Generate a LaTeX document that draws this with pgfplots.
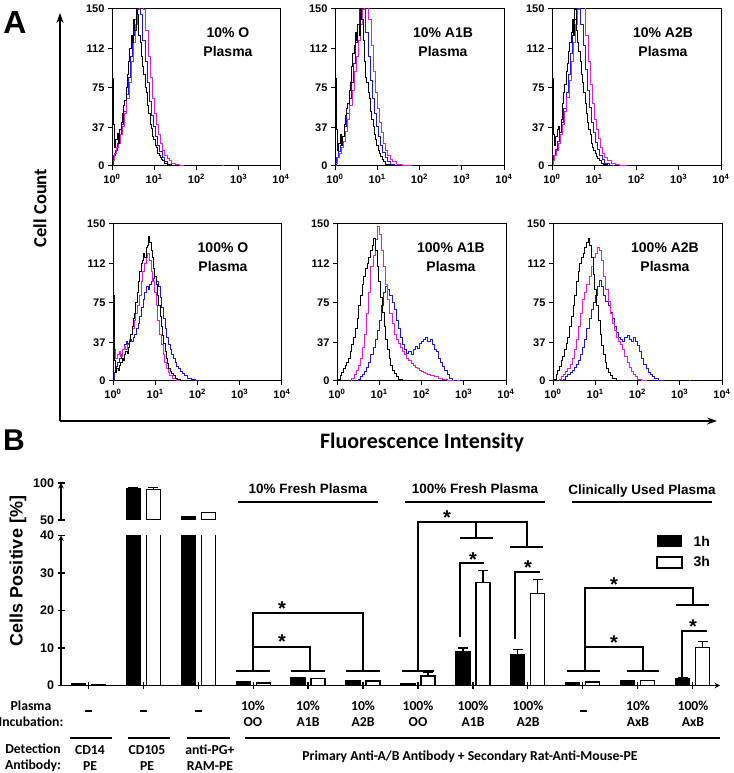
\documentclass[border=0pt]{standalone}
\usepackage{pgfplots}
\pgfplotsset{compat=1.18}
\usepackage{fontspec}
\setmainfont{Liberation Sans}
\newfontfamily\calfont{Carlito}
\usetikzlibrary{arrows.meta}
\definecolor{mag}{RGB}{240,20,225}
\definecolor{blu}{RGB}{20,20,255}
\pgfplotsset{
  hist/.style={scale only axis, width=169pt, height=157pt, anchor=south west,
    xmin=0, xmax=4, ymin=0, ymax=150,
    xtick={0,1,2,3,4},
    xticklabels={10\textsuperscript{0},10\textsuperscript{1},10\textsuperscript{2},10\textsuperscript{3},10\textsuperscript{4}},
    ytick={0,37,75,112,150},
    /pgf/number format/assume math mode=true,
    tick align=outside, tick pos=left, major tick length=4pt,
    axis line style={line width=1pt},
    every tick/.style={line width=1pt, black},
    tick label style={font=\fontsize{11}{11}\selectfont\bfseries},
    xticklabel style={yshift=-1pt},
    const plot, every axis plot/.append style={line width=0.7pt, mark=none}},
  bstyle/.style={scale only axis, width=659pt, anchor=south west,
    xmin=-0.5, xmax=11.5, clip=true,
    /pgf/number format/assume math mode=true,
    tick align=outside, major tick length=7pt,
    every tick/.style={line width=1.4pt, black},
    axis line style={-, line width=1.4pt},
    tick label style={font=\fontsize{12.5}{12.5}\selectfont\bfseries}},
  errs/.style={draw=none, mark=none, forget plot,
    error bars/.cd, y dir=plus, y explicit,
    error bar style={draw=black, line width=1.3pt},
    error mark options={draw=black, rotate=90, mark size=5pt, line width=1.3pt}}
}
\tikzset{ptitle/.style={font=\fontsize{14}{19.5}\selectfont\bfseries, align=center}}
\begin{document}
\begin{tikzpicture}
\path[use as bounding box] (0pt,0pt) rectangle (733pt,773pt);

% ---------------- Panel A ----------------
\begin{axis}[hist, at={(112pt,607pt)}]
\addplot[blu] coordinates {(0,0)(0.03,10)(0.08,15)(0.13,22)(0.18,30)(0.23,40)(0.28,52)(0.33,68)(0.38,85)(0.43,105)(0.48,125)(0.53,140)(0.58,155)(0.63,160)(0.68,145)(0.73,120)(0.78,100)(0.83,80)(0.88,62)(0.93,48)(0.98,38)(1.03,28)(1.08,20)(1.13,14)(1.18,8)(1.23,4)(1.3,2)(1.4,0)(4,0)};
\addplot[mag] coordinates {(0,0)(0.02,5)(0.05,12)(0.1,18)(0.15,22)(0.2,30)(0.25,38)(0.3,50)(0.35,65)(0.4,80)(0.45,100)(0.5,118)(0.55,135)(0.6,150)(0.65,165)(0.7,170)(0.75,150)(0.8,130)(0.85,105)(0.9,85)(0.95,65)(1.0,50)(1.05,40)(1.1,30)(1.15,22)(1.2,15)(1.25,10)(1.3,7)(1.35,5)(1.4,3)(1.5,2)(1.6,1)(1.7,0)(2.6,0)(2.62,1)(2.64,0)(4,0)};
\addplot[black] coordinates {(0,0)(0,84)(0.03,40)(0.06,18)(0.09,25)(0.12,31)(0.15,22)(0.18,35)(0.21,42)(0.24,50)(0.27,58)(0.30,63)(0.33,75)(0.36,88)(0.39,100)(0.42,112)(0.45,125)(0.48,118)(0.51,140)(0.54,130)(0.57,155)(0.60,145)(0.63,125)(0.66,118)(0.69,105)(0.72,95)(0.75,88)(0.78,75)(0.81,70)(0.84,58)(0.87,50)(0.90,40)(0.93,36)(0.96,28)(0.99,25)(1.02,20)(1.05,18)(1.08,12)(1.11,10)(1.14,8)(1.17,6)(1.20,5)(1.23,3)(1.30,2)(1.40,1)(1.50,0)(2.3,0)(2.32,1)(2.34,0)(4,0)};
\end{axis}

\begin{axis}[hist, at={(335pt,607pt)}]
\addplot[blu] coordinates {(0,0)(0.03,8)(0.08,14)(0.13,20)(0.18,28)(0.23,38)(0.28,50)(0.33,65)(0.38,80)(0.43,98)(0.48,118)(0.53,135)(0.58,150)(0.63,158)(0.68,150)(0.73,128)(0.78,105)(0.83,82)(0.88,65)(0.93,50)(0.98,38)(1.03,28)(1.08,20)(1.13,13)(1.18,8)(1.23,4)(1.3,2)(1.4,0)(4,0)};
\addplot[mag] coordinates {(0,0)(0.02,3)(0.06,8)(0.1,12)(0.15,18)(0.2,24)(0.25,33)(0.3,45)(0.35,58)(0.4,72)(0.45,90)(0.5,105)(0.55,120)(0.6,135)(0.65,150)(0.7,165)(0.75,160)(0.8,140)(0.85,115)(0.9,90)(0.95,70)(1.0,55)(1.05,42)(1.1,32)(1.15,22)(1.2,15)(1.25,10)(1.3,6)(1.35,4)(1.45,2)(1.6,1)(1.8,0)(2.9,0)(2.92,1)(2.94,0)(4,0)};
\addplot[black] coordinates {(0,0)(0,84)(0.03,35)(0.06,15)(0.09,22)(0.12,30)(0.15,20)(0.18,28)(0.21,40)(0.24,48)(0.27,55)(0.30,60)(0.33,72)(0.36,80)(0.39,95)(0.42,108)(0.45,115)(0.48,128)(0.51,120)(0.54,135)(0.57,125)(0.60,155)(0.63,140)(0.66,120)(0.69,100)(0.72,85)(0.75,80)(0.78,70)(0.81,65)(0.84,52)(0.87,45)(0.90,38)(0.93,30)(0.96,25)(0.99,20)(1.02,15)(1.05,12)(1.08,9)(1.11,6)(1.15,4)(1.2,2)(1.3,1)(1.4,0)(2.2,0)(2.22,1)(2.24,0)(2.4,0)(2.42,1)(2.44,0)(4,0)};
\end{axis}

\begin{axis}[hist, at={(552pt,607pt)}]
\addplot[blu] coordinates {(0,0)(0.03,10)(0.08,16)(0.13,24)(0.18,32)(0.23,42)(0.28,55)(0.33,70)(0.38,88)(0.43,108)(0.48,125)(0.53,140)(0.58,152)(0.63,150)(0.68,135)(0.73,115)(0.78,92)(0.83,72)(0.88,56)(0.93,42)(0.98,32)(1.03,23)(1.08,16)(1.13,10)(1.18,6)(1.25,3)(1.35,1)(1.45,0)(4,0)};
\addplot[mag] coordinates {(0,0)(0.02,5)(0.06,10)(0.1,15)(0.15,22)(0.2,30)(0.25,40)(0.3,52)(0.35,66)(0.4,82)(0.45,100)(0.5,118)(0.55,135)(0.6,150)(0.65,165)(0.7,170)(0.75,155)(0.8,125)(0.85,100)(0.9,78)(0.95,60)(1.0,45)(1.05,35)(1.1,26)(1.15,18)(1.2,12)(1.25,8)(1.3,5)(1.4,3)(1.5,2)(1.6,1)(1.75,0)(4,0)};
\addplot[black] coordinates {(0,0)(0,84)(0.03,30)(0.06,20)(0.09,28)(0.12,35)(0.15,38)(0.18,32)(0.21,45)(0.24,60)(0.27,70)(0.30,78)(0.33,90)(0.36,98)(0.39,110)(0.42,118)(0.45,128)(0.48,140)(0.51,125)(0.54,150)(0.57,130)(0.60,118)(0.63,110)(0.66,100)(0.69,88)(0.72,80)(0.75,70)(0.78,60)(0.81,50)(0.84,42)(0.87,35)(0.90,30)(0.93,22)(0.96,18)(0.99,15)(1.02,12)(1.05,9)(1.08,7)(1.12,5)(1.16,3)(1.22,2)(1.3,1)(1.4,0)(2.3,0)(2.32,1)(2.34,0)(2.55,0)(2.57,1)(2.59,0)(4,0)};
\end{axis}

\begin{axis}[hist, at={(113pt,392pt)}]
\addplot[blu] coordinates {(0,0)(0.03,8)(0.07,14)(0.11,18)(0.15,22)(0.19,25)(0.23,30)(0.27,35)(0.31,38)(0.35,36)(0.39,40)(0.43,38)(0.47,42)(0.51,45)(0.55,50)(0.59,55)(0.63,62)(0.67,70)(0.71,78)(0.75,85)(0.79,90)(0.83,88)(0.87,92)(0.91,95)(0.95,98)(0.99,100)(1.03,95)(1.07,90)(1.11,80)(1.15,70)(1.19,60)(1.23,50)(1.27,42)(1.31,35)(1.35,30)(1.39,25)(1.43,22)(1.47,18)(1.51,14)(1.55,12)(1.59,9)(1.63,7)(1.68,5)(1.75,3)(1.85,2)(1.95,1)(2.05,0)(4,0)};
\addplot[mag] coordinates {(0,0)(0,78)(0.03,30)(0.06,22)(0.1,25)(0.14,28)(0.18,24)(0.22,30)(0.26,33)(0.30,30)(0.34,35)(0.38,40)(0.42,45)(0.46,50)(0.5,58)(0.54,65)(0.58,72)(0.62,82)(0.66,95)(0.70,105)(0.74,112)(0.78,118)(0.82,122)(0.86,115)(0.90,105)(0.94,95)(0.98,85)(1.02,72)(1.06,58)(1.10,45)(1.14,35)(1.18,25)(1.22,18)(1.26,12)(1.30,8)(1.34,5)(1.40,3)(1.5,1)(1.6,0)(4,0)};
\addplot[black] coordinates {(0,0)(0,82)(0.03,20)(0.06,8)(0.09,12)(0.12,10)(0.15,15)(0.18,18)(0.21,22)(0.24,20)(0.27,25)(0.30,28)(0.33,26)(0.36,32)(0.39,38)(0.42,45)(0.45,52)(0.48,60)(0.51,65)(0.54,75)(0.57,85)(0.60,95)(0.63,105)(0.66,112)(0.69,115)(0.72,122)(0.75,118)(0.78,128)(0.81,130)(0.84,138)(0.87,132)(0.90,125)(0.93,118)(0.96,108)(0.99,100)(1.02,92)(1.05,82)(1.08,72)(1.11,62)(1.14,52)(1.17,44)(1.20,36)(1.23,28)(1.26,22)(1.29,17)(1.32,12)(1.35,9)(1.38,7)(1.42,5)(1.47,3)(1.52,2)(1.6,1)(1.7,0)(2.1,0)(2.12,1)(2.14,0)(2.3,0)(2.32,1)(2.34,0)(4,0)};
\end{axis}

\begin{axis}[hist, at={(337pt,392pt)}]
\addplot[blu] coordinates {(0,0)(0.45,0)(0.5,2)(0.55,4)(0.6,6)(0.65,9)(0.7,13)(0.75,18)(0.8,25)(0.85,32)(0.9,40)(0.95,48)(1.0,58)(1.05,72)(1.1,85)(1.15,90)(1.2,88)(1.25,82)(1.3,75)(1.35,68)(1.4,58)(1.45,50)(1.5,42)(1.55,35)(1.6,30)(1.65,26)(1.7,28)(1.75,25)(1.8,30)(1.85,33)(1.9,31)(1.95,36)(2.0,38)(2.05,40)(2.1,42)(2.15,38)(2.2,40)(2.25,35)(2.3,30)(2.35,28)(2.4,22)(2.45,18)(2.5,14)(2.55,10)(2.6,6)(2.65,3)(2.72,1)(2.8,0)(4,0)};
\addplot[mag] coordinates {(0,0)(0.3,0)(0.35,3)(0.4,6)(0.45,10)(0.5,15)(0.55,22)(0.6,32)(0.65,45)(0.7,65)(0.75,85)(0.8,110)(0.85,120)(0.9,135)(0.95,148)(1.0,140)(1.05,125)(1.1,110)(1.15,92)(1.2,78)(1.25,65)(1.3,55)(1.35,45)(1.4,40)(1.45,36)(1.5,32)(1.55,28)(1.6,25)(1.65,22)(1.7,20)(1.75,17)(1.8,15)(1.85,13)(1.9,12)(1.95,10)(2.0,9)(2.05,8)(2.1,7)(2.15,6)(2.2,5)(2.3,4)(2.4,3)(2.5,2)(2.6,1)(2.75,0)(2.85,1)(2.9,0)(4,0)};
\addplot[black] coordinates {(0,0)(0.03,2)(0.07,5)(0.11,8)(0.15,12)(0.19,15)(0.23,18)(0.27,22)(0.31,28)(0.35,35)(0.39,42)(0.43,50)(0.47,60)(0.51,72)(0.55,82)(0.59,92)(0.63,100)(0.67,108)(0.71,112)(0.75,118)(0.79,125)(0.83,130)(0.87,136)(0.91,125)(0.95,110)(0.99,95)(1.03,80)(1.07,66)(1.11,52)(1.15,40)(1.19,30)(1.23,22)(1.27,15)(1.31,10)(1.35,7)(1.4,4)(1.45,2)(1.55,1)(1.65,0)(4,0)};
\end{axis}

\begin{axis}[hist, at={(553pt,392pt)}]
\addplot[blu] coordinates {(0,0)(0.2,0)(0.25,2)(0.3,4)(0.35,6)(0.4,8)(0.45,10)(0.5,13)(0.55,16)(0.6,20)(0.65,25)(0.7,32)(0.75,40)(0.8,50)(0.85,60)(0.9,68)(0.95,75)(1.0,82)(1.05,90)(1.1,96)(1.15,90)(1.2,82)(1.25,76)(1.3,72)(1.35,66)(1.4,60)(1.45,52)(1.5,46)(1.55,42)(1.6,40)(1.65,38)(1.7,42)(1.75,44)(1.8,40)(1.85,38)(1.9,42)(1.95,38)(2.0,34)(2.05,28)(2.1,22)(2.15,16)(2.2,12)(2.25,8)(2.3,6)(2.35,4)(2.4,3)(2.5,1)(2.6,0)(3.2,0)(3.22,1)(3.24,0)(4,0)};
\addplot[mag] coordinates {(0,0)(0.1,0)(0.15,2)(0.2,4)(0.25,6)(0.3,9)(0.35,12)(0.4,16)(0.45,22)(0.5,30)(0.55,40)(0.6,52)(0.65,65)(0.7,78)(0.75,85)(0.8,92)(0.85,100)(0.9,110)(0.95,118)(1.0,122)(1.05,128)(1.1,125)(1.15,115)(1.2,100)(1.25,88)(1.3,76)(1.35,65)(1.4,55)(1.45,48)(1.5,42)(1.55,38)(1.6,35)(1.65,30)(1.7,24)(1.75,18)(1.8,13)(1.85,9)(1.9,6)(1.95,4)(2.0,2)(2.1,1)(2.2,0)(4,0)};
\addplot[black] coordinates {(0,0)(0.03,2)(0.07,6)(0.11,10)(0.15,14)(0.19,20)(0.23,24)(0.27,30)(0.31,36)(0.35,42)(0.39,52)(0.43,62)(0.47,72)(0.51,82)(0.55,95)(0.59,105)(0.63,112)(0.67,118)(0.71,122)(0.75,128)(0.79,132)(0.83,136)(0.87,130)(0.91,118)(0.95,102)(0.99,88)(1.03,72)(1.07,58)(1.11,45)(1.15,34)(1.19,25)(1.23,18)(1.27,12)(1.31,8)(1.35,5)(1.4,3)(1.5,1)(1.6,0)(4,0)};
\end{axis}

% ---------------- Panel B ----------------
\begin{axis}[bstyle, at={(61pt,87.5pt)}, height=150pt, ymin=0, ymax=40,
    axis x line=bottom, axis y line=left,
    xtick={0,...,11}, xticklabels={}, ytick={0,10,20,30,40}]
\addplot[ybar, bar width=14pt, bar shift=-10pt, fill=black, draw=black, line width=1.3pt]
  coordinates {(0,0.4)(1,92)(2,54)(3,1.0)(4,2.1)(5,1.4)(6,0.5)(7,8.9)(8,8.1)(9,0.8)(10,1.2)(11,1.8)};
\addplot[ybar, bar width=14pt, bar shift=10pt, fill=white, draw=black, line width=1.3pt]
  coordinates {(0,0.2)(1,91)(2,60)(3,0.7)(4,1.9)(5,1.2)(6,2.5)(7,27.4)(8,24.6)(9,0.9)(10,1.3)(11,10.1)};
% error bars: x offset of the bar shift (10pt = 0.182 category units)
\addplot[errs] coordinates {(6.818,8.9) +- (0,1.1) (7.818,8.1) +- (0,1.5) (10.818,1.8) +- (0,0.4)};
\addplot[errs] coordinates {(6.182,2.5) +- (0,0.9) (7.182,27.4) +- (0,3.3) (8.182,24.6) +- (0,3.7) (11.182,10.1) +- (0,1.6)};
\end{axis}

\begin{axis}[bstyle, at={(61pt,253pt)}, height=37pt, ymin=50, ymax=100,
    axis x line=none, axis y line=left, xtick=\empty, ytick={50,100}]
\addplot[ybar, bar width=14pt, bar shift=-10pt, fill=black, draw=black, line width=1.3pt]
  coordinates {(1,92)(2,54)};
\addplot[ybar, bar width=14pt, bar shift=10pt, fill=white, draw=black, line width=1.3pt]
  coordinates {(1,91)(2,60)};
\addplot[errs] coordinates {(0.818,92) +- (0,2)};
\addplot[errs] coordinates {(1.182,91) +- (0,2.5)};
\end{axis}

% ------------- annotations in top-down pixel coordinates -------------
\begin{scope}[yshift=773pt, x=1pt, y=-1pt]
\node[ptitle] at (228,42) {10\% O\\Plasma};
\node[ptitle] at (443,42) {10\% A1B\\Plasma};
\node[ptitle] at (663,42) {10\% A2B\\Plasma};
\node[ptitle] at (223,257) {100\% O\\Plasma};
\node[ptitle] at (451,257) {100\% A1B\\Plasma};
\node[ptitle] at (665,257) {100\% A2B\\Plasma};

\draw[line width=1.2pt, -{Stealth[length=10pt,width=7pt]}] (60,421) -- (60,13);
\draw[line width=1.2pt, -{Stealth[length=10pt,width=7pt]}] (60,421) -- (717,421);
\node[font=\calfont\fontsize{18.5}{18.5}\selectfont\bfseries, rotate=90] at (40,208) {Cell Count};
\node[font=\calfont\fontsize{22}{22}\selectfont\bfseries] at (422,443) {Fluorescence Intensity};
\node[font=\fontsize{32}{32}\selectfont\bfseries] at (15,23) {A};
\node[font=\fontsize{30}{30}\selectfont\bfseries] at (14,440) {B};

\node[font=\fontsize{18}{18}\selectfont\bfseries, rotate=90] at (18,571) {Cells Positive [\%]};

\begin{scope}[line width=1.4pt]
\node[font=\fontsize{13.5}{13.5}\selectfont\bfseries] at (308,489) {10\% Fresh Plasma};
\node[font=\fontsize{13.5}{13.5}\selectfont\bfseries] at (475,489) {100\% Fresh Plasma};
\node[font=\fontsize{13.5}{13.5}\selectfont\bfseries] at (642,491) {Clinically Used Plasma};
\draw (238,502) -- (378,502);
\draw (405,502) -- (545,502);
\draw (572,502) -- (712,502);
\draw (236,671) -- (270,671);
\draw (291,671) -- (325,671);
\draw (346,671) -- (380,671);
\draw (253,671) |- (310,647) -- (310,671);
\draw (253,671) |- (363,613) -- (363,671);
\draw (402,671) -- (434,671);
\draw (418,671) |- (527,522) -- (527,547);
\draw (476,522) -- (476,538);
\draw (460,538) -- (493,538);
\draw (510,547) -- (543,547);
\draw (460,637) |- (484,563);
\draw (515,639) |- (540,572);
\draw (567,671) -- (600,671);
\draw (627,671) -- (659,671);
\draw (585,671) |- (693,588) -- (693,605);
\draw (676,605) -- (709,605);
\draw (585,671) |- (643,647) -- (643,671);
\draw (682,677) |- (707,631);
\end{scope}
\begin{scope}[every node/.style={font=\fontsize{20}{20}\selectfont\bfseries, inner sep=0pt}]
\node at (282,642) {*};
\node at (282,609) {*};
\node at (447,518) {*};
\node at (473,560) {*};
\node at (528,568) {*};
\node at (614,585) {*};
\node at (614,643) {*};
\node at (693,627) {*};
\end{scope}
\fill (657,535) rectangle (682,547);
\draw[line width=1.3pt] (657,557) rectangle (682,568);
\node[font=\fontsize{14}{14}\selectfont\bfseries, anchor=west] at (690,541) {1h};
\node[font=\fontsize{14}{14}\selectfont\bfseries, anchor=west] at (690,562) {3h};

\begin{scope}[every node/.style={font=\calfont\fontsize{13.7}{16}\selectfont\bfseries, align=center}]
\node at (31,714) {Plasma\\Incubation:};
\node at (33,758) {Detection\\Antibody:};
\node at (253,714) {10\%\\OO};
\node at (308,714) {10\%\\A1B};
\node at (363,714) {10\%\\A2B};
\node at (418,714) {100\%\\OO};
\node at (473,714) {100\%\\A1B};
\node at (528,714) {100\%\\A2B};
\node at (638,714) {10\%\\AxB};
\node at (693,714) {100\%\\AxB};
\node at (90,758) {CD14\\PE};
\node at (147,758) {CD105\\PE};
\node at (210,758) {anti-PG+\\RAM-PE};
\node at (470,757) {Primary Anti-A/B Antibody + Secondary Rat-Anti-Mouse-PE};
\end{scope}
\foreach \cx in {88,143,198,583} \fill (\cx-3.5,709.8) rectangle (\cx+3.5,712.4);
\draw[line width=1.4pt] (70,738) -- (112,738);
\draw[line width=1.4pt] (128,738) -- (170,738);
\draw[line width=1.4pt] (187,738) -- (230,738);
\draw[line width=1.4pt] (245,738) -- (720,738);
\end{scope}
\end{tikzpicture}
\end{document}
